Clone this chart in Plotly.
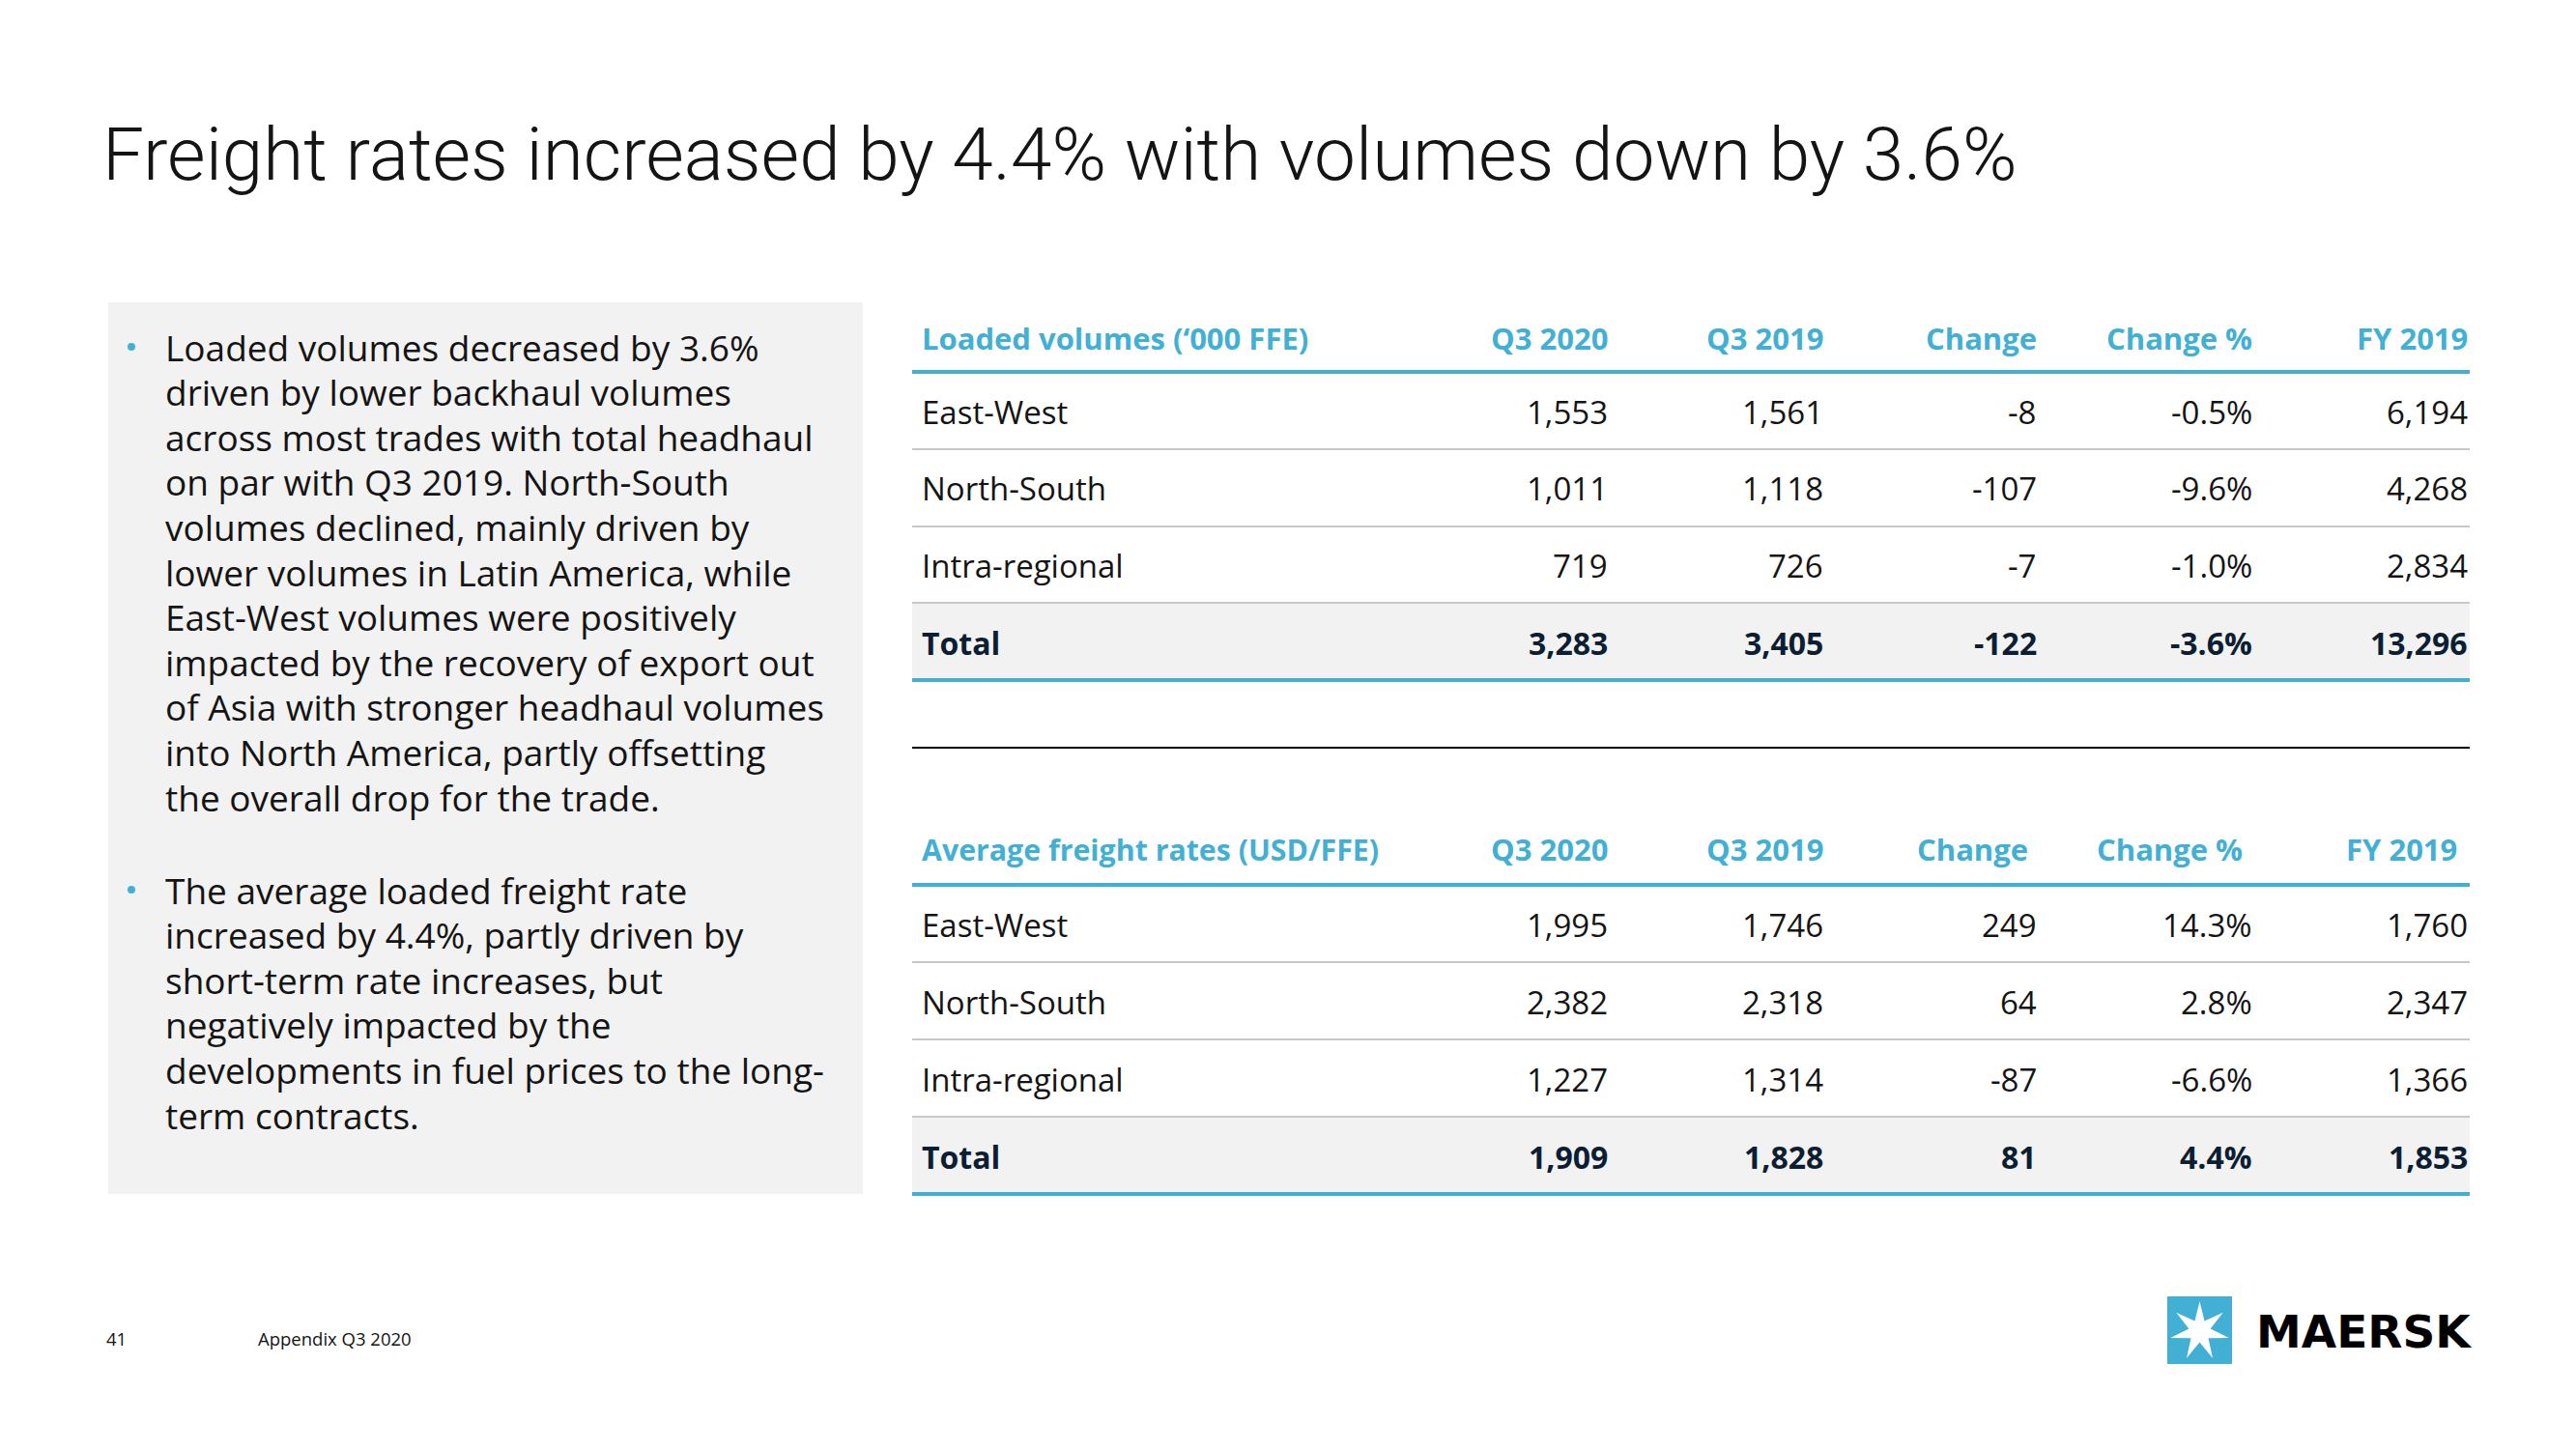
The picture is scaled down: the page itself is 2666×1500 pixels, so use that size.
import math
import plotly.graph_objects as go

# ---------------- data ----------------
title_text = "Freight rates increased by 4.4% with volumes down by 3.6%"

row_labels = ["East-West", "North-South", "Intra-regional", "Total"]
col_headers = ["Q3 2020", "Q3 2019", "Change", "Change %", "FY 2019"]

vol_header = "Loaded volumes (‘000 FFE)"
vol_q3_2020 = [1553, 1011, 719, 3283]
vol_q3_2019 = [1561, 1118, 726, 3405]
vol_change = [-8, -107, -7, -122]
vol_change_pct = [-0.5, -9.6, -1.0, -3.6]
vol_fy2019 = [6194, 4268, 2834, 13296]

rate_header = "Average freight rates (USD/FFE)"
rate_q3_2020 = [1995, 2382, 1227, 1909]
rate_q3_2019 = [1746, 2318, 1314, 1828]
rate_change = [249, 64, -87, 81]
rate_change_pct = [14.3, 2.8, -6.6, 4.4]
rate_fy2019 = [1760, 2347, 1366, 1853]

bullet_1 = [
    "Loaded volumes decreased by 3.6%",
    "driven by lower backhaul volumes",
    "across most trades with total headhaul",
    "on par with Q3 2019. North-South",
    "volumes declined, mainly driven by",
    "lower volumes in Latin America, while",
    "East-West volumes were positively",
    "impacted by the recovery of export out",
    "of Asia with stronger headhaul volumes",
    "into North America, partly offsetting",
    "the overall drop for the trade.",
]
bullet_2 = [
    "The average loaded freight rate",
    "increased by 4.4%, partly driven by",
    "short-term rate increases, but",
    "negatively impacted by the",
    "developments in fuel prices to the long-",
    "term contracts.",
]
page_number = "41"
footer_text = "Appendix Q3 2020"
logo_text = "MAERSK"

# ---------------- style ----------------
W, H = 2666, 1500
OFF = 8  # compensate the page's default body margin
TEAL = "#42B0D5"
NAVY = "#0B1E33"
TXT = "#141414"
GRID = "#C8C8C8"
BOXBG = "#F2F2F2"
BODY_FONT = "Open Sans"

fig = go.Figure()
shapes = []
ann = []


def text(x, y, s, size, color=TXT, bold=False, xanchor="left", family=BODY_FONT, weight=None):
    w = weight if weight is not None else (700 if bold else 400)
    ann.append(dict(x=x, y=y, xref="x", yref="y", text=s, showarrow=False,
                    xanchor=xanchor, yanchor="middle",
                    font=dict(family=family, size=size, color=color, weight=w)))


def hline(y, x0, x1, color, width):
    shapes.append(dict(type="line", xref="x", yref="y", x0=x0, x1=x1, y0=y, y1=y,
                       line=dict(color=color, width=width)))


# title
text(104, 160, title_text, 76.5, color="#141414", family="Roboto", weight=300)

# left grey box with bullets
shapes.append(dict(type="rect", xref="x", yref="y", x0=112, x1=893, y0=313, y1=1236,
                   fillcolor=BOXBG, line=dict(width=0), layer="below"))
LINE_STEP = 46.6
for start_y, lines in [(359, bullet_1), (921, bullet_2)]:
    shapes.append(dict(type="circle", xref="x", yref="y", x0=132, x1=140,
                       y0=start_y - 4, y1=start_y + 4, fillcolor=TEAL, line=dict(width=0)))
    for i, ln in enumerate(lines):
        text(169, start_y + i * LINE_STEP, ln, 37)

# tables
TX0, TX1 = 944, 2556
col_x = [1666, 1889, 2110, 2333, 2556]


def fmt_int(v):
    return f"{v:,}"


def fmt_pct(v):
    return f"{v:.1f}%"


def table(header, header_x, y_head, y_line, row_y, sep_y, y_bottom, cols, head_size):
    shapes.append(dict(type="rect", xref="x", yref="y", x0=TX0, x1=TX1, y0=sep_y[-1], y1=y_bottom,
                       fillcolor=BOXBG, line=dict(width=0), layer="below"))
    text(952, y_head, header, head_size, color=TEAL, bold=True)
    for h, hx in zip(col_headers, header_x):
        text(hx, y_head, h, 31, color=TEAL, bold=True, xanchor="right")
    hline(y_line, TX0, TX1, TEAL, 4)
    for sy in sep_y:
        hline(sy, TX0, TX1, GRID, 2)
    hline(y_bottom, TX0, TX1, TEAL, 4)
    for r, lab in enumerate(row_labels):
        is_total = r == len(row_labels) - 1
        color = NAVY if is_total else TXT
        size = 32 if is_total else 33
        text(952, row_y[r], lab, size, color=color, bold=is_total)
        for c, (vals, fmt) in enumerate(cols):
            text(col_x[c], row_y[r], fmt(vals[r]), size, color=color, bold=is_total, xanchor="right")


table(vol_header, [1666, 1889, 2110, 2333, 2556], 350, 385,
      [426, 505, 585, 665], [465, 545, 624], 704,
      [(vol_q3_2020, fmt_int), (vol_q3_2019, fmt_int), (vol_change, fmt_int),
       (vol_change_pct, fmt_pct), (vol_fy2019, fmt_int)], 31)

hline(774, TX0, TX1, "#000000", 2)

table(rate_header, [1666, 1889, 2101, 2323, 2545], 879, 916,
      [957, 1037, 1117, 1197], [996, 1076, 1156], 1236,
      [(rate_q3_2020, fmt_int), (rate_q3_2019, fmt_int), (rate_change, fmt_int),
       (rate_change_pct, fmt_pct), (rate_fy2019, fmt_int)], 30.3)

# footer
text(108, 1385, page_number, 18.5)
text(265, 1385, footer_text, 18.5)

# logo
shapes.append(dict(type="rect", xref="x", yref="y", x0=2243, x1=2310, y0=1342, y1=1412,
                   fillcolor=TEAL, line=dict(width=0)))
cx, cy, R, r = 2276.5, 1378, 31, 11.5
pts = []
for k in range(14):
    ang = -math.pi / 2 + k * math.pi / 7
    rad = R if k % 2 == 0 else r
    pts.append((cx + rad * math.cos(ang), cy + rad * math.sin(ang)))
path = "M " + " L ".join(f"{px:.1f},{py:.1f}" for px, py in pts) + " Z"
shapes.append(dict(type="path", xref="x", yref="y", path=path, fillcolor="white", line=dict(width=0)))
text(2333, 1378, logo_text, 47, color="#000000", family="DejaVu Sans", weight=700)

fig.update_layout(
    width=W, height=H, margin=dict(l=0, r=0, t=0, b=0),
    paper_bgcolor="white", plot_bgcolor="white",
    xaxis=dict(range=[OFF, W + OFF], visible=False, fixedrange=True),
    yaxis=dict(range=[H + OFF, OFF], visible=False, fixedrange=True),
    shapes=shapes, annotations=ann, showlegend=False,
)
fig.write_html("out.html")
